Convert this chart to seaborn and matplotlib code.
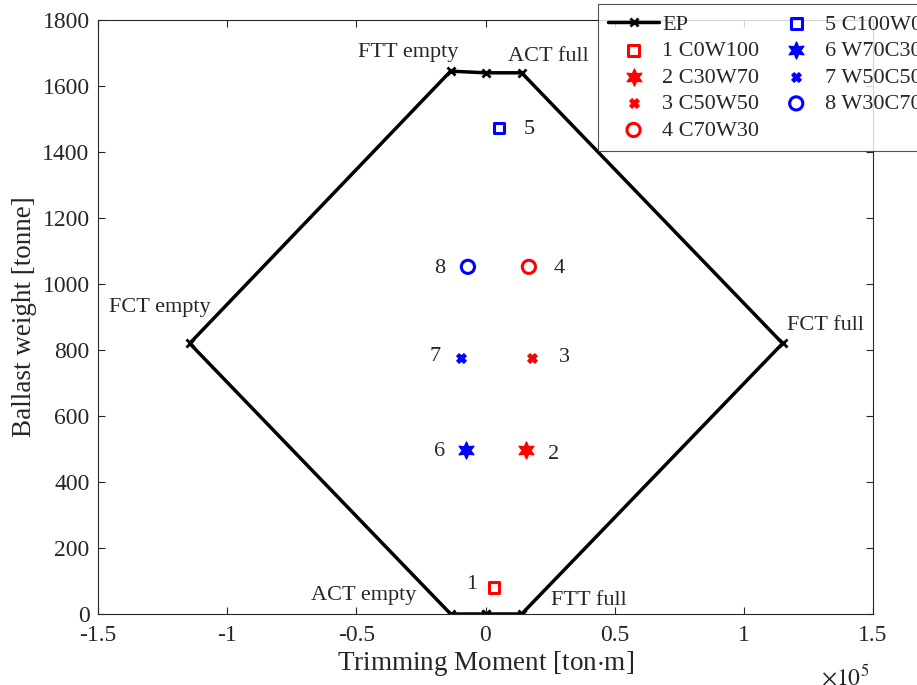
import numpy as np
import pandas as pd
import matplotlib
matplotlib.use("Agg")
import matplotlib.pyplot as plt
import seaborn as sns

# EP polygon (trimming moment [ton*m], ballast weight [tonne])
ep_x = [0, 14000, 115000, 14000, 0, -13500, -114500, -13500, 0]
ep_y = [0, 0, 820, 1640, 1640, 1645, 820, 0, 0]

# Loading cases
case_labels = ["1 C0W100", "2 C30W70", "3 C50W50", "4 C70W30",
               "5 C100W0", "6 W70C30", "7 W50C50", "8 W30C70"]
case_x = [3300, 15700, 18000, 16800, 5200, -7500, -9500, -6800]
case_y = [80, 497, 776, 1052, 1473, 497, 776, 1052]

region_names = ["FTT empty", "ACT full", "FCT empty", "FCT full", "ACT empty", "FTT full"]

x_ticks = [-150000, -100000, -50000, 0, 50000, 100000, 150000]
x_tick_labels = ["-1.5", "-1", "-0.5", "0", "0.5", "1", "1.5"]
y_ticks = [0, 200, 400, 600, 800, 1000, 1200, 1400, 1600, 1800]

sns.set_style("white")
plt.rcParams['font.family'] = ['Liberation Serif', 'DejaVu Serif']
plt.rcParams['mathtext.fontset'] = 'stix'

fig = plt.figure(figsize=(9.17, 6.85), dpi=100)
ax = fig.add_axes([98/917, 1-614/685, (873-98)/917, (614-20)/685])

ep_df = pd.DataFrame({"x": ep_x, "y": ep_y})
sns.lineplot(data=ep_df, x="x", y="y", sort=False, estimator=None, ax=ax,
             color="black", linewidth=2.5, marker="x", markersize=6,
             markeredgewidth=2, markeredgecolor="black", label="EP")

star6 = (6, 1, 0)
styles = [
    dict(marker="s", color="red", fill=False, s=60),
    dict(marker=star6, color="red", fill=True, s=150),
    dict(marker="X", color="red", fill=True, s=45),
    dict(marker="o", color="red", fill=False, s=90),
    dict(marker="s", color="blue", fill=False, s=60),
    dict(marker=star6, color="blue", fill=True, s=150),
    dict(marker="X", color="blue", fill=True, s=45),
    dict(marker="o", color="blue", fill=False, s=90),
]
for lab, xv, yv, st in zip(case_labels, case_x, case_y, styles):
    d = pd.DataFrame({"x": [xv], "y": [yv]})
    if st["fill"]:
        sns.scatterplot(data=d, x="x", y="y", ax=ax, marker=st["marker"],
                        color=st["color"], s=st["s"], edgecolor=st["color"],
                        linewidth=1, label=lab, zorder=3)
    else:
        sns.scatterplot(data=d, x="x", y="y", ax=ax, marker=st["marker"],
                        facecolor="none", edgecolor=st["color"], s=st["s"],
                        linewidth=2.2, label=lab, zorder=3)

# number annotations next to points
num_offsets = [(-16, 2), (20, -3), (23, 0), (22, -1), (22, -1), (-19, -1), (-19, 1), (-20, -1)]
for i, (xv, yv) in enumerate(zip(case_x, case_y)):
    ax.annotate(str(i + 1), (xv, yv), xytext=num_offsets[i], textcoords="offset points",
                ha="center", va="center", fontsize=16)

# region labels
ax.text(-30000, 1700, region_names[0], ha="center", va="center", fontsize=16)
ax.text(24500, 1688, region_names[1], ha="center", va="center", fontsize=16)
ax.text(-126000, 930, region_names[2], ha="center", va="center", fontsize=16)
ax.text(131500, 873, region_names[3], ha="center", va="center", fontsize=16)
ax.text(-47000, 55, region_names[4], ha="center", va="center", fontsize=16)
ax.text(40000, 40, region_names[5], ha="center", va="center", fontsize=16)

ax.set_xlim(-150000, 150000)
ax.set_ylim(0, 1800)
ax.set_xticks(x_ticks)
ax.set_xticklabels(x_tick_labels)
ax.set_yticks(y_ticks)
ax.tick_params(direction="in", length=5, width=0.8, labelsize=17, colors="#262626",
               top=True, right=True, bottom=True, left=True)
ax.tick_params(axis="x", pad=8)
ax.tick_params(axis="y", pad=6)
for sp in ax.spines.values():
    sp.set_visible(True)
    sp.set_color("#262626")
    sp.set_linewidth(0.8)
ax.set_xlabel("Trimming Moment [ton$\\cdot$m]", fontsize=19.5, color="#262626", labelpad=2)
ax.set_ylabel("Ballast weight [tonne]", fontsize=19.5, color="#262626", labelpad=4)
fig.text(845/917, 1-677/685, "$\\times10^5$", ha="center", va="center", fontsize=17, color="#262626")

handles, labels = ax.get_legend_handles_labels()
leg = ax.legend(handles, labels, ncol=2, loc="upper left",
                bbox_to_anchor=(598/917, 1-4/685), bbox_transform=fig.transFigure,
                fontsize=16, frameon=True, fancybox=False, edgecolor="#262626",
                borderpad=0.45, labelspacing=0.27, handlelength=2.3, columnspacing=0.5,
                handletextpad=0.15, borderaxespad=0)
leg.get_frame().set_linewidth(0.8)

fig.savefig("out.png", dpi=100)
